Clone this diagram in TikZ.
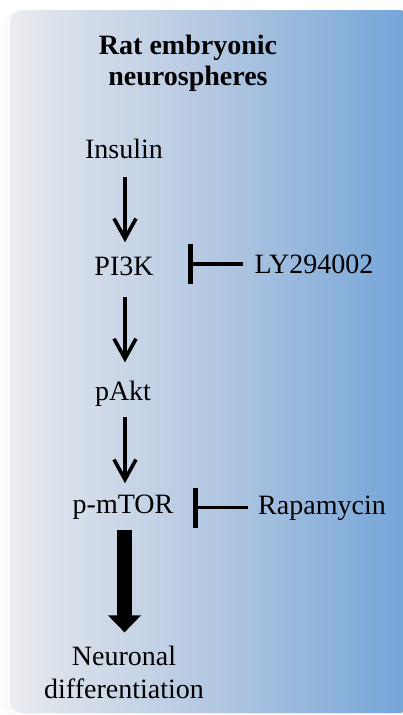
\documentclass[tikz,border=0pt]{standalone}
\usepackage{fontspec}
\setmainfont{Liberation Serif}
\usetikzlibrary{arrows.meta}
\definecolor{shA}{RGB}{236,237,240}
\definecolor{shB}{RGB}{218,225,235}
\definecolor{shC}{RGB}{180,200,226}
\definecolor{shD}{RGB}{114,164,215}
\pgfdeclarehorizontalshading{boxshade}{100bp}{color(0bp)=(shA); color(25bp)=(shA); color(31bp)=(shB); color(50bp)=(shC); color(75bp)=(shD); color(100bp)=(shD)}
\tikzset{
  lbl/.style={inner sep=0pt, anchor=base, font=\fontsize{28}{31}\selectfont},
  ttl/.style={inner sep=0pt, align=center, font=\fontsize{28}{31}\selectfont\bfseries},
  arr/.style={line width=3.6pt, -{Straight Barb[length=20pt,width=22pt,line width=3.6pt]}},
  bigarr/.style={line width=15pt, -{Triangle[length=17pt,width=32pt]}},
  inh/.style={line width=3.4pt, -{Bar[width=40pt,line width=5pt]}}
}
\begin{document}
\begin{tikzpicture}[x=1pt,y=-1pt]
\useasboundingbox (0,0) rectangle (403,715);
% shadow
\fill[black!4, rounded corners=14pt] (6,11) rectangle (420,716);
\fill[black!2, rounded corners=15pt] (3,12) rectangle (420,719);
% box
\shade[shading=boxshade, rounded corners=12pt] (10,10) rectangle (412,713);
% title
\node[ttl] (title) at (188,63) {Rat embryonic\\neurospheres};
% labels
\node[lbl] (insulin) at (124,158) {Insulin};
\node[lbl] (pi3k) at (124,275) {PI3K};
\node[lbl] (ly) at (314,273) {LY294002};
\node[lbl] (pakt) at (123,400) {pAkt};
\node[lbl] (mtor) at (123,513) {p-mTOR};
\node[lbl] (rapa) at (322,514) {Rapamycin};
\node[lbl] (neur) at (124,665) {Neuronal};
\node[lbl] (diff) at (124,698) {differentiation};
% arrows
\draw[arr] ([yshift=-19pt]insulin.south -| 125,0) -- ([yshift=14pt]pi3k.north -| 125,0);
\draw[arr] ([yshift=-22pt]pi3k.south -| 125,0) -- ([yshift=18pt]pakt.north -| 125,0);
\draw[arr] ([yshift=-11pt]pakt.south -| 125,0) -- ([yshift=11pt]mtor.north -| 125,0);
\draw[bigarr] ([yshift=-11pt]mtor.south -| 124.5,0) -- ([yshift=13pt]neur.north -| 124.5,0);
% inhibitions
\draw[inh] ([xshift=-12pt]ly.west) -- ([xshift=34pt]pi3k.east |- ly.west);
\draw[inh] ([xshift=-10pt]rapa.west) -- ([xshift=19pt]mtor.east |- rapa.west);
\end{tikzpicture}
\end{document}
